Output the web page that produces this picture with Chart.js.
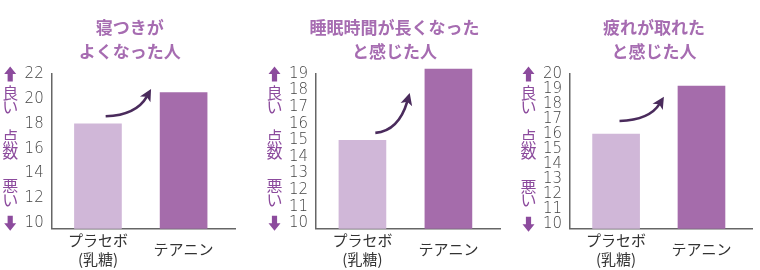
<!DOCTYPE html>
<html>
<head>
<meta charset="utf-8">
<script src="https://cdn.jsdelivr.net/npm/chart.js@4"></script>
<style>
  html, body { margin: 0; padding: 0; background: #fff; overflow: hidden; }
  #wrap { position: relative; width: 760px; height: 270px; overflow: hidden; }
  canvas { position: absolute; top: 0; }
</style>
</head>
<body>
<div id="wrap">
  <canvas id="c1" width="253" height="270" style="left:0px"></canvas>
  <canvas id="c2" width="253" height="270" style="left:253px"></canvas>
  <canvas id="c3" width="262" height="270" style="left:506px"></canvas>
</div>
<script>
// values
const categories = [["プラセボ", "(乳糖)"], "テアニン"];
const titles = [
  ["寝つきが", "よくなった人"],
  ["睡眠時間が長くなった", "と感じた人"],
  ["疲れが取れた", "と感じた人"],
];
const placeboValues = [18.0, 15.0, 16.0];
const theanineValues = [20.5, 19.3, 19.2];
const yTicks1 = [10, 12, 14, 16, 18, 20, 22];
const yTicks2 = [10, 11, 12, 13, 14, 15, 16, 17, 18, 19];
const yTicks3 = [10, 11, 12, 13, 14, 15, 16, 17, 18, 19, 20];
const sideWords = ["良", "い", "点", "数", "悪", "い"];

const JP = '"Noto Sans CJK JP", "Noto Sans", sans-serif';

// layout of each panel (canvas padding, right spacer, arrow end points in data units)
const panels = [
  { id: "c1", padL: 24.7, padR: 18, spacer: 0, yMin: 9.6, ticks: yTicks1,
    arrow: [[0.09, 18.6], [0.62, 20.8]] },
  { id: "c2", padL: 36, padR: 6, spacer: 0, yMin: 9.7, ticks: yTicks2,
    arrow: [[0.15, 15.45], [0.55, 17.85]] },
  { id: "c3", padL: 37, padR: 3, spacer: 12.3, yMin: 9.73, ticks: yTicks3,
    arrow: [[0.04, 16.87], [0.56, 18.49]] },
];

const blockArrow = (ctx, cx, cy, dir) => {
  // dir -1 points up, 1 points down
  const h = 7.5, hw = 6, sw = 2.6;
  ctx.beginPath();
  ctx.moveTo(cx, cy + dir * h);
  ctx.lineTo(cx + hw, cy);
  ctx.lineTo(cx + sw, cy);
  ctx.lineTo(cx + sw, cy - dir * h);
  ctx.lineTo(cx - sw, cy - dir * h);
  ctx.lineTo(cx - sw, cy);
  ctx.lineTo(cx - hw, cy);
  ctx.closePath();
  ctx.fill();
};

const sideLabel = {
  id: "sideLabel",
  afterDraw(chart) {
    const { ctx, chartArea, scales: { y } } = chart;
    const top = y.getPixelForValue(y.max);
    const bot = y.getPixelForValue(10);
    const cx = chartArea.left - 41.5;
    const h = bot - top;
    const spots = [0.125, 0.22, 0.42, 0.52, 0.75, 0.84];
    ctx.save();
    ctx.fillStyle = "#8c4b9d";
    blockArrow(ctx, cx, top, -1);
    blockArrow(ctx, cx, bot, 1);
    ctx.font = "16px " + JP;
    ctx.textAlign = "center";
    ctx.textBaseline = "middle";
    sideWords.forEach((w, k) => ctx.fillText(w, cx, top + h * spots[k]));
    ctx.restore();
  },
};

const curveArrow = {
  id: "curveArrow",
  afterDatasetsDraw(chart, args, opts) {
    const { ctx, scales: { x, y } } = chart;
    const [a, b] = opts.points;
    const x0 = x.getPixelForValue(a[0]), y0 = y.getPixelForValue(a[1]);
    const x1 = x.getPixelForValue(b[0]), y1 = y.getPixelForValue(b[1]);
    const qx = x0 + (x1 - x0) * 0.68, qy = y0 - (y0 - y1) * 0.05;
    const ang = Math.atan2(y1 - qy, x1 - qx);
    const cos = Math.cos(ang), sin = Math.sin(ang);
    const hl = 12, hw = 6;
    ctx.save();
    ctx.strokeStyle = ctx.fillStyle = "#4a2b5c";
    ctx.lineWidth = 2.6;
    ctx.beginPath();
    ctx.moveTo(x0, y0);
    ctx.quadraticCurveTo(qx, qy, x1 - cos * hl * 0.7, y1 - sin * hl * 0.7);
    ctx.stroke();
    ctx.beginPath();
    ctx.moveTo(x1, y1);
    ctx.lineTo(x1 - cos * hl + sin * hw, y1 - sin * hl - cos * hw);
    ctx.lineTo(x1 - cos * hl * 0.75, y1 - sin * hl * 0.75);
    ctx.lineTo(x1 - cos * hl - sin * hw, y1 - sin * hl + cos * hw);
    ctx.closePath();
    ctx.fill();
    ctx.restore();
  },
};

panels.forEach((p, i) => new Chart(document.getElementById(p.id), {
  type: "bar",
  data: {
    datasets: [{
      data: [placeboValues[i], theanineValues[i]].map((v, k) => ({ x: k, y: v })),
      backgroundColor: ["#d0b7d8", "#a56cab"],
      barThickness: 47,
      base: p.yMin,
      clip: false,
    }],
  },
  options: {
    responsive: false,
    animation: false,
    layout: { padding: { left: p.padL, right: p.padR } },
    plugins: {
      legend: { display: false },
      tooltip: { enabled: false },
      title: {
        display: true,
        text: titles[i],
        color: "#a66cb1",
        padding: { top: 16, bottom: 10 },
        font: { family: JP, size: 17, weight: "bold", lineHeight: "24px" },
      },
      curveArrow: { points: p.arrow },
    },
    scales: {
      x: {
        type: "linear",
        offset: false,
        min: -0.54,
        max: 1.6,
        grid: { display: false, drawTicks: false },
        border: { color: "#666", width: 1.5 },
        afterBuildTicks: (s) => { s.ticks = categories.map((_, k) => ({ value: k })); },
        afterFit: (s) => { s.height = 41.7; },
        ticks: {
          padding: 12,
          crossAlign: "center",
          autoSkip: false,
          maxRotation: 0,
          color: "#333",
          font: { family: JP, size: 15, lineHeight: "18.5px" },
          callback: (v) => categories[v],
        },
      },
      y: {
        min: p.yMin,
        max: p.ticks[p.ticks.length - 1],
        grid: { display: false, drawTicks: false },
        border: { color: "#666", width: 1.5 },
        afterBuildTicks: (s) => { s.ticks = p.ticks.map((v) => ({ value: v })); },
        afterFit: (s) => { s.width = 27; },
        ticks: {
          padding: 8,
          autoSkip: false,
          color: "#444",
          font: { family: '"DejaVu Sans", sans-serif', size: 15, weight: 300 },
        },
      },
      spacer: {
        type: "linear",
        position: "right",
        grid: { display: false, drawTicks: false },
        border: { display: false },
        ticks: { display: false },
        afterFit: (s) => { s.width = p.spacer; },
      },
    },
  },
  plugins: [sideLabel, curveArrow],
}));
</script>
</body>
</html>
